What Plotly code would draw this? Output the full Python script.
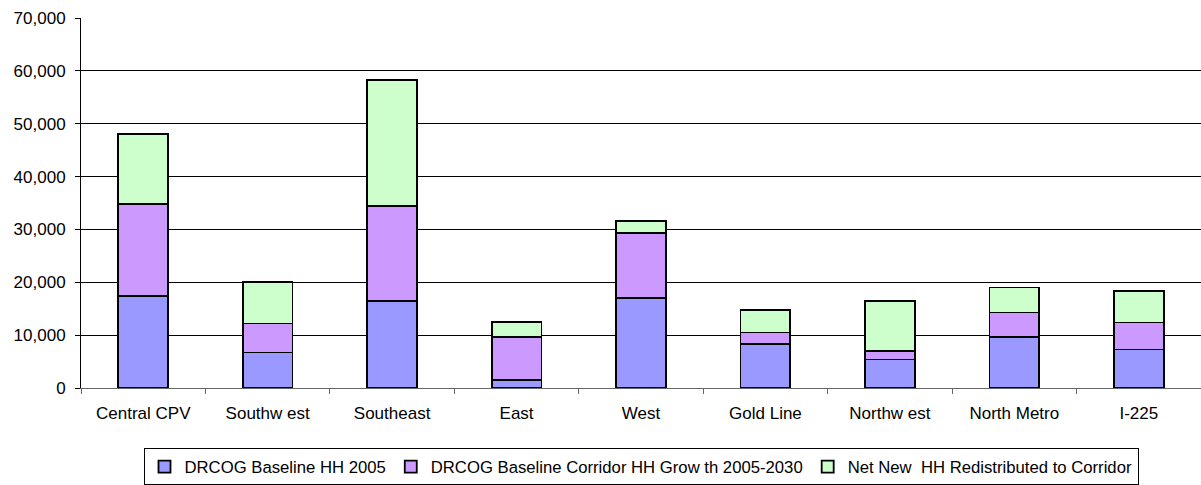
import plotly.graph_objects as go

# Household totals by corridor (stacked components)
corridors = ["Central CPV", "Southw est", "Southeast", "East", "West",
             "Gold Line", "Northw est", "North Metro", "I-225"]
baseline_2005 = [17400, 6700, 16400, 1500, 17000, 8300, 5400, 9600, 7300]
baseline_growth = [17400, 5500, 18000, 8100, 12300, 2200, 1600, 4700, 5100]
net_new_redistributed = [13200, 7800, 23900, 2900, 2300, 4200, 9400, 4700, 5900]

series_names = ["DRCOG Baseline HH 2005",
                "DRCOG Baseline Corridor HH Grow th 2005-2030",
                "Net New  HH Redistributed to Corridor"]
series_values = [baseline_2005, baseline_growth, net_new_redistributed]
series_colors = ["#9999FF", "#CC99FF", "#CCFFCC"]

FONT = "Arial, Liberation Sans, sans-serif"

fig = go.Figure()
for name, vals, color in zip(series_names, series_values, series_colors):
    fig.add_trace(go.Bar(
        x=corridors, y=vals, name=name,
        marker=dict(color=color, line=dict(color="#000000", width=1.8)),
    ))

fig.update_layout(
    width=1201, height=485,
    margin=dict(l=81, r=0, t=18, b=97, autoexpand=False),
    barmode="stack", bargap=0.6,
    paper_bgcolor="white", plot_bgcolor="white",
    font=dict(family=FONT, size=17, color="#000000"),
    legend=dict(
        orientation="h", x=0.5, xanchor="center", y=-0.163, yanchor="top",
        bordercolor="#000000", borderwidth=1,
        font=dict(family=FONT, size=16.7, color="#000000"),
        itemwidth=30, traceorder="normal",
    ),
    showlegend=True,
)

fig.update_xaxes(
    type="category", showgrid=False, automargin=False,
    showline=True, linecolor="#666666", linewidth=1,
    ticks="outside", tickson="boundaries", ticklen=5, tickcolor="#666666",
    ticklabelstandoff=10,
    tickfont=dict(family=FONT, size=17, color="#000000"),
)
fig.update_yaxes(
    range=[0, 70000], dtick=10000, tickformat=",", automargin=False,
    showgrid=True, gridcolor="#000000", gridwidth=1,
    showline=True, linecolor="#000000", linewidth=1,
    ticks="outside", ticklen=5, tickcolor="#000000",
    ticklabelstandoff=6,
    tickfont=dict(family=FONT, size=17, color="#000000"),
    zeroline=False,
)

fig.write_html("out.html")
